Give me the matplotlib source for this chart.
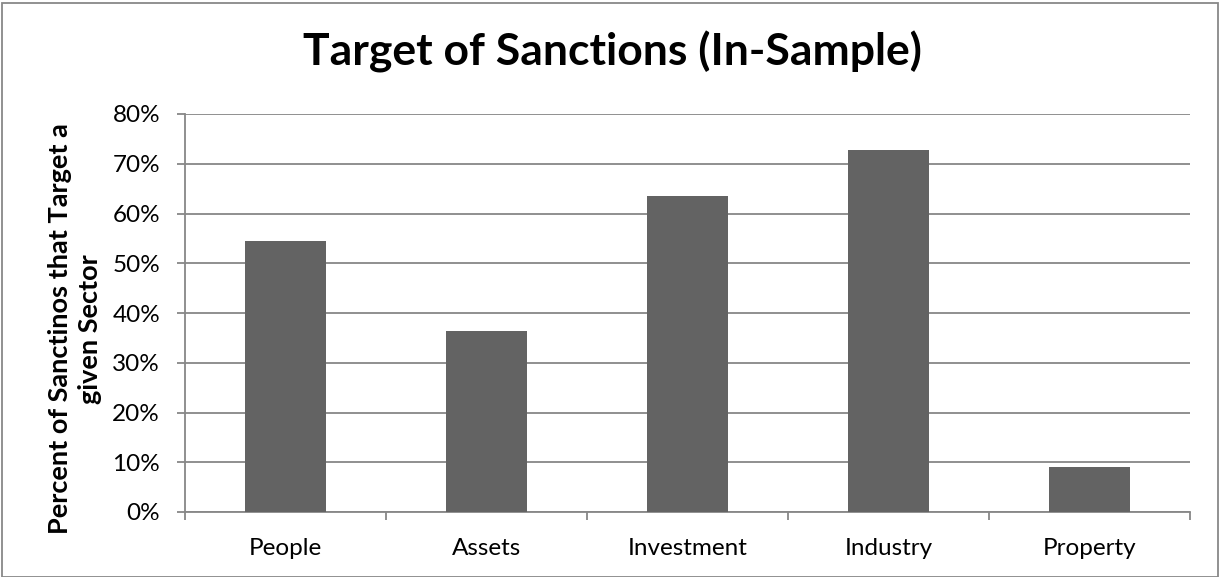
import numpy as np
import matplotlib
matplotlib.use("Agg")
import matplotlib.pyplot as plt
from matplotlib.patches import Rectangle
from matplotlib.ticker import PercentFormatter

# ======================================================
# DATA
# ======================================================
categories = ["People", "Assets", "Investment", "Industry", "Property"]
shares = [0.545, 0.364, 0.636, 0.727, 0.091]
y_ticks = [0.0, 0.1, 0.2, 0.3, 0.4, 0.5, 0.6, 0.7, 0.8]

TITLE = "Target of Sanctions (In-Sample)"
Y_LABEL = "Percent of Sanctinos that Target a\ngiven Sector"

BAR_COLOR = "#636363"
GRID_COLOR = "#878787"

plt.rcParams["font.family"] = ["Lato", "DejaVu Sans"]

# ======================================================
# PLOT
# ======================================================
fig = plt.figure(figsize=(12.25, 5.77), dpi=100)
ax = fig.add_axes([185 / 1225, 1 - 512 / 577, (1190 - 185) / 1225, (512 - 114) / 577])

x = np.arange(len(categories))
ax.bar(x, shares, width=0.4, color=BAR_COLOR, zorder=3)

ax.set_xlim(-0.5, len(categories) - 0.5)
ax.set_ylim(0, 0.8)
ax.set_yticks(y_ticks)
ax.yaxis.set_major_formatter(PercentFormatter(1.0, decimals=0))
ax.set_xticks(x)
ax.set_xticklabels(categories)
ax.set_xticks(np.arange(len(categories) + 1) - 0.5, minor=True)

ax.grid(axis="y", color=GRID_COLOR, linewidth=1.3, zorder=0)
for side in ["top", "right"]:
    ax.spines[side].set_visible(False)
for side in ["left", "bottom"]:
    ax.spines[side].set_color(GRID_COLOR)
    ax.spines[side].set_linewidth(1.3)

ax.tick_params(axis="x", which="major", length=0, pad=19, labelsize=17.5)
ax.tick_params(axis="x", which="minor", length=6, width=1.3, color=GRID_COLOR)
ax.tick_params(axis="y", length=6, width=1.3, color=GRID_COLOR, pad=12, labelsize=17.5)

# axis title, two lines, placed in figure pixels
fig.text(75 / 1225, 1 - 329 / 577, Y_LABEL, rotation=90, ha="center", va="center",
         multialignment="center", fontsize=19.5, fontweight="bold", linespacing=1.25)

fig.text(612 / 1225, 1 - 52 / 577, TITLE, ha="center", va="center",
         fontsize=32, fontweight="bold")

# outer chart border
fig.patches.append(Rectangle((2 / 1225, 0), 1216 / 1225, 1 - 3 / 577,
                             transform=fig.transFigure, fill=False,
                             edgecolor="#888888", linewidth=1.3))

fig.savefig("out.png", dpi=100)
